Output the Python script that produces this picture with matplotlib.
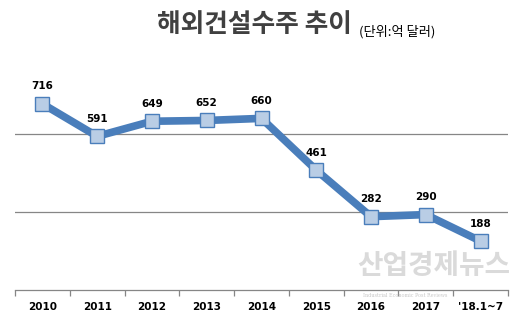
import matplotlib.pyplot as plt

plt.rcParams["font.family"] = ["Noto Sans CJK KR", "DejaVu Sans"]

years = ["2010", "2011", "2012", "2013", "2014", "2015", "2016", "2017", "'18.1~7"]
orders = [716, 591, 649, 652, 660, 461, 282, 290, 188]

fig = plt.figure(figsize=(5.23, 3.23), dpi=100)
ax = fig.add_axes([0.0287, 0.1022, 0.9426, 0.7245])

x = list(range(len(years)))
ax.plot(x, orders, color="#4a7ebb", lw=5.5, marker="s", markersize=10.5,
        markerfacecolor="#b9cde5", markeredgecolor="#4a7ebb", markeredgewidth=1,
        solid_joinstyle="miter", zorder=3)

for xi, v in zip(x, orders):
    ax.annotate(str(v), (xi, v), xytext=(0, 9), textcoords="offset points",
                ha="center", va="bottom", fontsize=7.5, fontweight="bold",
                family="DejaVu Sans")

ax.set_xlim(-0.5, len(years) - 0.5)
ax.set_ylim(0, 900)
for g in [300, 600]:
    ax.axhline(g, color="#868686", lw=0.9, zorder=1)

for s in ["top", "right", "left"]:
    ax.spines[s].set_visible(False)
ax.spines["bottom"].set_color("#868686")
ax.spines["bottom"].set_linewidth(0.9)

ax.set_yticks([])
ax.set_xticks([i - 0.5 for i in range(len(years) + 1)])
ax.set_xticklabels([])
ax.set_xticks(x, minor=True)
ax.set_xticklabels(years, minor=True, fontsize=7.5, fontweight="bold",
                   family="DejaVu Sans")
ax.tick_params(axis="x", which="major", length=4, color="#868686", width=0.9)
ax.tick_params(axis="x", which="minor", length=0, pad=9)

fig.text(0.300, 0.923, "해외건설수주 추이", ha="left", va="center",
         fontsize=18.5, fontweight="bold", color="#404040")
fig.text(0.686, 0.903, "(단위:억 달러)", ha="left", va="center",
         fontsize=9.5, color="black")
fig.text(0.83, 0.178, "산업경제뉴스", ha="center", va="center",
         fontsize=20, fontweight="bold", color="#dadada", zorder=0)
fig.text(0.775, 0.085, "Industrial Economic Post Reviews", ha="center",
         va="center", fontsize=3.5, color="#c8c8c8", family="DejaVu Serif")

fig.savefig("out.png", dpi=100)
